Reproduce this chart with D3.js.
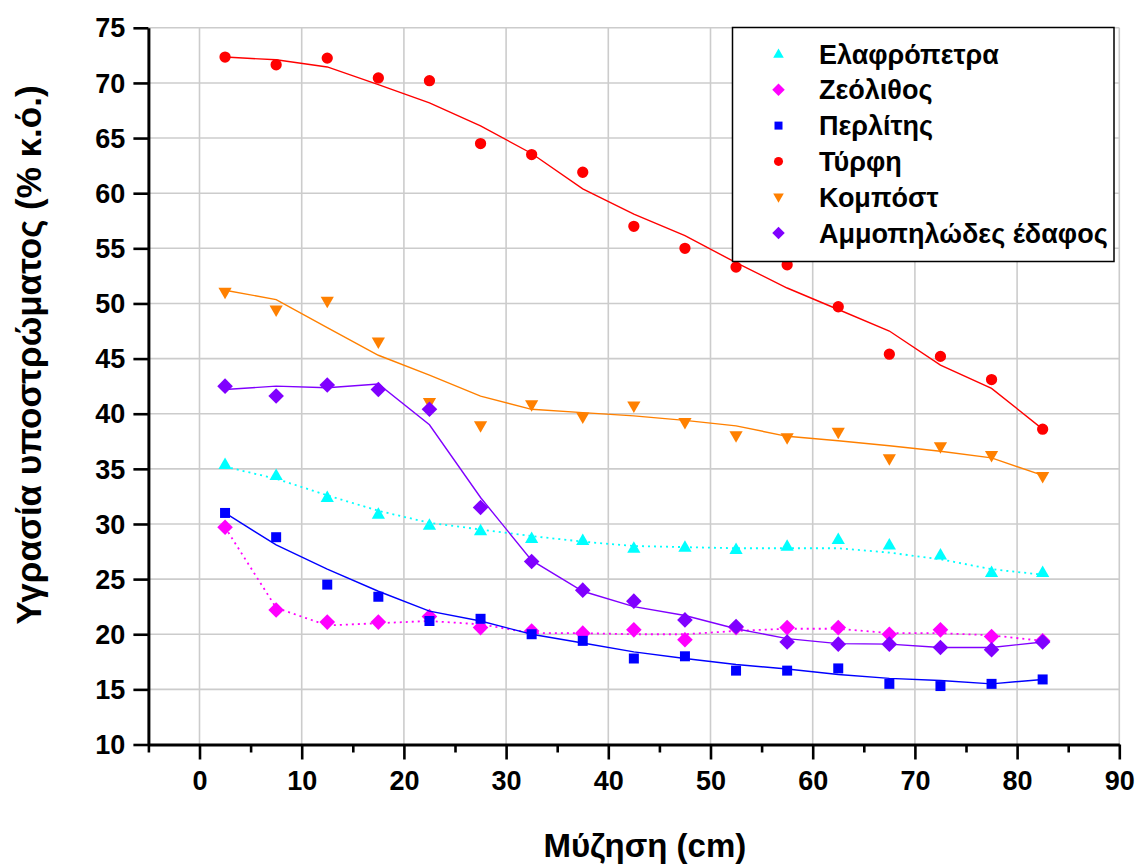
<!DOCTYPE html>
<html>
<head>
<meta charset="utf-8">
<script src="https://cdn.jsdelivr.net/npm/d3@7"></script>
<style>
  html, body { margin: 0; padding: 0; background: #fff; }
  svg { display: block; font-family: "Liberation Sans", Arial, sans-serif; }
</style>
</head>
<body>
<svg id="chart" width="1138" height="864"></svg>
<script>
// Suction depths (cm)
const depth = [2.5, 7.5, 12.5, 17.5, 22.5, 27.5, 32.5, 37.5, 42.5, 47.5, 52.5, 57.5, 62.5, 67.5, 72.5, 77.5, 82.5];

// Measured moisture (% v/v) and fitted curves per substrate
const elafropetra    = [35.4, 34.4, 32.4, 30.9, 29.9, 29.4, 28.7, 28.5, 27.8, 27.9, 27.7, 28.0, 28.6, 28.1, 27.2, 25.6, 25.6];
const elafropetraFit = [35.2, 34.1, 32.6, 31.2, 30.1, 29.5, 28.9, 28.4, 28.0, 27.9, 27.8, 27.8, 27.8, 27.4, 26.8, 25.9, 25.4];

const zeolithos    = [29.7, 22.2, 21.1, 21.1, 21.6, 20.6, 20.3, 20.1, 20.4, 19.5, 20.6, 20.6, 20.6, 20.0, 20.4, 19.8, 19.4];
const zeolithosFit = [29.7, 22.4, 20.8, 21.0, 21.2, 20.9, 20.1, 20.1, 20.0, 20.0, 20.3, 20.5, 20.5, 20.1, 20.1, 19.9, 19.4];

const perlitis    = [31.0, 28.8, 24.5, 23.4, 21.2, 21.4, 20.0, 19.4, 17.8, 18.0, 16.7, 16.7, 16.9, 15.5, 15.3, 15.5, 15.9];
const perlitisFit = [31.0, 28.1, 25.9, 23.9, 22.1, 21.2, 20.0, 19.2, 18.4, 17.8, 17.25, 16.85, 16.35, 16.0, 15.8, 15.5, 15.9];

const tyrfi    = [72.35, 71.65, 72.25, 70.45, 70.2, 64.5, 63.5, 61.9, 57.0, 55.0, 53.3, 53.5, 49.7, 45.4, 45.2, 43.1, 38.6];
const tyrfiFit = [72.35, 72.1, 71.45, 69.85, 68.2, 66.1, 63.6, 60.4, 58.1, 56.15, 53.7, 51.4, 49.45, 47.5, 44.4, 42.3, 38.6];

const kompost    = [51.0, 49.4, 50.2, 46.5, 41.0, 38.9, 40.8, 39.7, 40.7, 39.2, 38.0, 37.8, 38.3, 35.9, 37.0, 36.2, 34.3];
const kompostFit = [51.2, 50.35, 47.8, 45.3, 43.5, 41.6, 40.4, 40.1, 39.8, 39.4, 38.9, 37.95, 37.55, 37.1, 36.6, 36.0, 34.4];

const ammopilodes    = [42.5, 41.6, 42.6, 42.2, 40.4, 31.5, 26.6, 24.0, 23.0, 21.3, 20.7, 19.3, 19.1, 19.1, 18.8, 18.6, 19.3];
const ammopilodesFit = [42.2, 42.5, 42.35, 42.7, 39.0, 32.4, 26.7, 23.9, 22.5, 21.7, 20.5, 19.6, 19.15, 19.1, 18.8, 18.8, 19.3];

// Axis ticks
const xMajorTicks = [0, 10, 20, 30, 40, 50, 60, 70, 80, 90];
const xMinorTicks = [-5, 5, 15, 25, 35, 45, 55, 65, 75, 85];
const yTicks = [10, 15, 20, 25, 30, 35, 40, 45, 50, 55, 60, 65, 70, 75];

const xTitle = "Μύζηση (cm)";
const yTitle = "Υγρασία υποστρώματος (% κ.ό.)";

const series = [
  { name: "Ελαφρόπετρα",        values: elafropetra, fit: elafropetraFit, color: "#00ffff", symbol: "triangleUp",   dotted: true },
  { name: "Ζεόλιθος",           values: zeolithos,   fit: zeolithosFit,   color: "#ff00ff", symbol: "diamond",      dotted: true },
  { name: "Περλίτης",           values: perlitis,    fit: perlitisFit,    color: "#0000ff", symbol: "square",       dotted: false },
  { name: "Τύρφη",              values: tyrfi,       fit: tyrfiFit,       color: "#ff0000", symbol: "circle",       dotted: false },
  { name: "Κομπόστ",            values: kompost,     fit: kompostFit,     color: "#ff8000", symbol: "triangleDown", dotted: false },
  { name: "Αμμοπηλώδες έδαφος", values: ammopilodes, fit: ammopilodesFit, color: "#8000ff", symbol: "diamond",      dotted: false }
];

const svg = d3.select("#chart");

const x = d3.scaleLinear().domain([-5, 90]).range([148.4, 1119.3]);
const y = d3.scaleLinear().domain([10, 75]).range([744.5, 27.8]);

// Grid
const grid = svg.append("g").attr("stroke", "#cccccc").attr("stroke-width", 1.6);
grid.selectAll("line.v").data(xMajorTicks).join("line")
  .attr("x1", d => x(d)).attr("x2", d => x(d))
  .attr("y1", y(10)).attr("y2", y(75));
grid.selectAll("line.h").data(yTicks.filter(d => d > 10)).join("line")
  .attr("x1", x(-5)).attr("x2", x(90))
  .attr("y1", d => y(d)).attr("y2", d => y(d));

// Marker shapes
function markerPath(kind, size) {
  switch (kind) {
    case "circle": return d3.symbol(d3.symbolCircle, size)();
    case "square": return d3.symbol(d3.symbolSquare, size)();
    case "diamond": {
      const r = Math.sqrt(size) * 0.78;
      return `M0,${-r}L${r},0L0,${r}L${-r},0Z`;
    }
    case "triangleUp": {
      const h = Math.sqrt(size) * 1.15, w = h * 1.15;
      return `M0,${-h * 0.6}L${w / 2},${h * 0.4}L${-w / 2},${h * 0.4}Z`;
    }
    case "triangleDown": {
      const h = Math.sqrt(size) * 1.15, w = h * 1.15;
      return `M0,${h * 0.6}L${w / 2},${-h * 0.4}L${-w / 2},${-h * 0.4}Z`;
    }
  }
}

const line = d3.line().x((d, i) => x(depth[i])).y(d => y(d));

const plot = svg.append("g");
series.forEach(s => {
  const g = plot.append("g");
  g.append("path")
    .attr("d", line(s.fit))
    .attr("fill", "none")
    .attr("stroke", s.color)
    .attr("stroke-width", s.dotted ? 1.8 : 1.4)
    .attr("stroke-dasharray", s.dotted ? "2,4" : null);
  g.selectAll("path.m").data(s.values).join("path")
    .attr("class", "m")
    .attr("transform", (d, i) => `translate(${x(depth[i])},${y(d)})`)
    .attr("d", markerPath(s.symbol, 100))
    .attr("fill", s.color);
});

// Axes
const axisColor = "#000";
const xAxis = svg.append("g").attr("transform", `translate(0,${y(10)})`)
  .call(d3.axisBottom(x).tickValues(xMajorTicks).tickSize(15).tickPadding(11).tickSizeOuter(0));
const xMinor = svg.append("g").attr("transform", `translate(0,${y(10)})`)
  .call(d3.axisBottom(x).tickValues(xMinorTicks).tickSize(8).tickFormat("").tickSizeOuter(0));
const yAxis = svg.append("g").attr("transform", `translate(${x(-5)},0)`)
  .call(d3.axisLeft(y).tickValues(yTicks).tickSize(15).tickPadding(8).tickSizeOuter(0));

[xAxis, xMinor, yAxis].forEach(a => {
  a.select(".domain").attr("stroke", axisColor).attr("stroke-width", 3);
  a.selectAll(".tick line").attr("stroke", axisColor).attr("stroke-width", 2.6);
  a.selectAll(".tick text")
    .attr("fill", "#000")
    .style("font-family", "'Liberation Sans', Arial, sans-serif")
    .style("font-size", "27px")
    .style("font-weight", "bold");
});
xMinor.select(".domain").remove();
yAxis.selectAll(".tick text").attr("dy", "0.34em");
xAxis.selectAll(".tick text").attr("dy", "0.71em");

// Axis titles
svg.append("text")
  .attr("x", (x(-5) + x(90)) / 2 + 11)
  .attr("y", 857)
  .attr("text-anchor", "middle")
  .style("font-size", "33px").style("font-weight", "bold")
  .text(xTitle);

svg.append("text")
  .attr("transform", `translate(41,355) rotate(-90)`)
  .attr("text-anchor", "middle")
  .style("font-size", "35px").style("font-weight", "bold")
  .text(yTitle);

// Legend
const legend = svg.append("g");
legend.append("rect")
  .attr("x", 732.5).attr("y", 27.5).attr("width", 381.5).attr("height", 234)
  .attr("fill", "#fff").attr("stroke", "#000").attr("stroke-width", 1.5);
series.forEach((s, i) => {
  const cy = 54 + i * 35.8;
  legend.append("path")
    .attr("transform", `translate(778.5,${cy})`)
    .attr("d", markerPath(s.symbol, 64))
    .attr("fill", s.color);
  legend.append("text")
    .attr("x", 819).attr("y", cy + 9.5)
    .style("font-size", "27px").style("font-weight", "bold")
    .text(s.name);
});
</script>
</body>
</html>
